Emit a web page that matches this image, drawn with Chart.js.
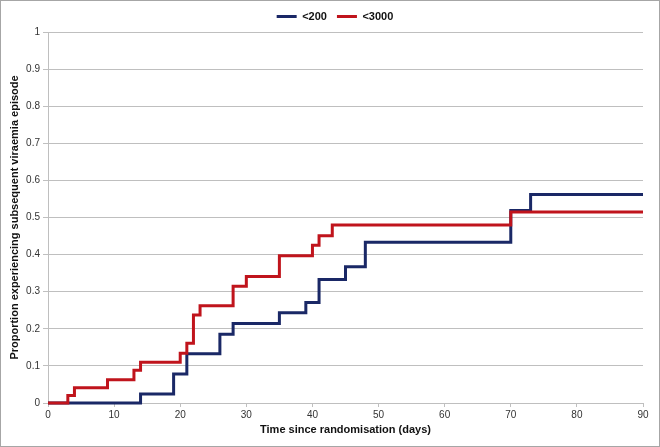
<!DOCTYPE html>
<html>
<head>
<meta charset="utf-8">
<script src="https://cdn.jsdelivr.net/npm/chart.js@4"></script>
<style>
    html, body { margin: 0; padding: 0; background: #fff; }
    #wrap {
        width: 660px;
        height: 447px;
        box-sizing: border-box;
        border: 1px solid #a6a6a6;
    }
    canvas { display: block; }
</style>
</head>
<body>
<div id="wrap"><canvas id="km-chart" width="658" height="445"></canvas></div>
<script>
// Step curve data (days, cumulative proportion)
const lowDays = [0, 14, 19, 21, 26, 28, 35, 39, 41, 45, 48, 70, 73, 90];
const lowValues = [0, 0.024, 0.078, 0.133, 0.185, 0.214, 0.243, 0.271, 0.333, 0.367, 0.433, 0.519, 0.562, 0.562];

const highDays = [0, 3, 4, 9, 13, 14, 20, 21, 22, 23, 28, 30, 35, 40, 41, 43, 70, 90];
const highValues = [0, 0.02, 0.041, 0.063, 0.088, 0.11, 0.134, 0.161, 0.237, 0.262, 0.315, 0.341, 0.397, 0.425, 0.451, 0.48, 0.515, 0.515];

const seriesLabels = ['<200', '<3000'];
const xTicks = [0, 10, 20, 30, 40, 50, 60, 70, 80, 90];

const toPoints = (days, values) => days.map((d, i) => ({ x: d, y: values[i] }));

const font = 'Liberation Sans, Arial, sans-serif';
const gridGrey = '#bfbfbf';

// nudge the legend a bit right, like the original
const legendShift = {
    id: 'legendShift',
    afterLayout(chart) {
        chart.legend.left += 13;
        chart.legend.right += 13;
    }
};

const ctx = document.getElementById('km-chart').getContext('2d');

new Chart(ctx, {
    type: 'line',
    data: {
        datasets: [
            {
                // drawn on top, listed second in legend (reverse)
                label: seriesLabels[1],
                data: toPoints(highDays, highValues),
                borderColor: '#c0141c',
                backgroundColor: '#c0141c',
                borderWidth: 3,
                stepped: 'before',
                pointRadius: 0,
                clip: false
            },
            {
                label: seriesLabels[0],
                data: toPoints(lowDays, lowValues),
                borderColor: '#1a2866',
                backgroundColor: '#1a2866',
                borderWidth: 3,
                stepped: 'before',
                pointRadius: 0,
                clip: false
            }
        ]
    },
    plugins: [legendShift],
    options: {
        responsive: false,
        animation: false,
        layout: {
            padding: { left: 0, right: 16, top: 0, bottom: 0 }
        },
        scales: {
            x: {
                type: 'linear',
                min: 0,
                max: 90,
                afterBuildTicks: scale => {
                    scale.ticks = xTicks.map(v => ({ value: v }));
                },
                afterFit: scale => { scale.height = 43; },
                grid: {
                    drawOnChartArea: false,
                    drawTicks: true,
                    tickLength: 4,
                    color: gridGrey
                },
                border: { color: gridGrey },
                ticks: {
                    color: '#333',
                    padding: 2,
                    maxRotation: 0,
                    font: { family: font, size: 10 }
                },
                title: {
                    display: true,
                    text: 'Time since randomisation (days)',
                    color: '#111',
                    padding: { top: 4, bottom: 9 },
                    font: { family: font, size: 11, weight: 'bold' }
                }
            },
            y: {
                min: 0,
                max: 1,
                afterFit: scale => { scale.width = 47; },
                grid: {
                    color: gridGrey,
                    tickLength: 5
                },
                border: { color: gridGrey },
                ticks: {
                    stepSize: 0.1,
                    color: '#333',
                    padding: 3,
                    font: { family: font, size: 10 },
                    callback: value => String(Math.round(value * 10) / 10)
                },
                title: {
                    display: true,
                    text: 'Proportion experiencing subsequent viraemia episode',
                    color: '#111',
                    padding: { top: 7, bottom: 0 },
                    font: { family: font, size: 11, weight: 'bold' }
                }
            }
        },
        plugins: {
            legend: {
                position: 'top',
                reverse: true,
                labels: {
                    usePointStyle: true,
                    pointStyle: 'line',
                    pointStyleWidth: 20,
                    padding: 10,
                    color: '#111',
                    font: { family: font, size: 11, weight: 'bold' }
                }
            },
            tooltip: { enabled: false }
        }
    }
});
</script>
</body>
</html>
